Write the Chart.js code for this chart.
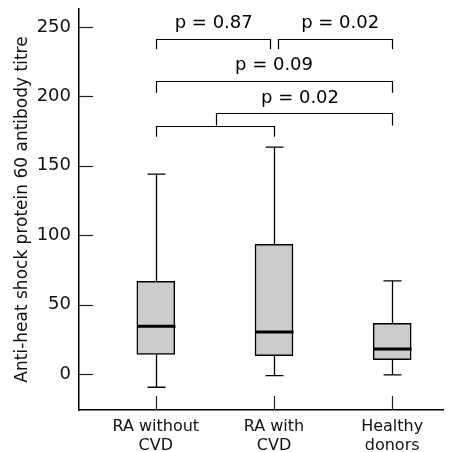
<!DOCTYPE html>
<html>
<head>
<meta charset="utf-8">
<script src="https://cdn.jsdelivr.net/npm/chart.js@4.4.0/dist/chart.umd.min.js"></script>
<style>
  html, body { margin: 0; padding: 0; background: #fff; }
  #wrap { width: 458px; height: 452px; }
</style>
</head>
<body>
<div id="wrap"><canvas id="myChart"></canvas></div>
<script>
// groups and box plot summary values
const groups = [["RA without", "CVD"], ["RA with", "CVD"], ["Healthy", "donors"]];
const whiskerLow = [-9.6, -1.2, -0.7];
const q1 = [14, 13.2, 10.3];
const median = [34.4, 30.3, 18];
const q3 = [66.8, 93.4, 36.5];
const whiskerHigh = [144, 163.5, 67];
const yTicks = [0, 50, 100, 150, 200, 250];

// significance brackets (x in group index, y in titre units)
const bracketFrom = [0, 1.03, 0, 0, 0.51];
const bracketTo = [0.97, 2, 2, 1, 2];
const bracketY = [241.6, 241.6, 210.9, 178.9, 187.8];
const bracketDrop = [234, 234, 202.7, 171, 179];
const pText = ["p = 0.87", "p = 0.02", "p = 0.09", "p = 0.02"];
const pX = [0.49, 1.56, 1.0, 1.22];
const pY = [252.5, 252.5, 222.5, 198.8];

const FONT = "DejaVu Sans";

const boxExtras = {
    id: "boxExtras",
    afterDatasetsDraw(chart) {
        const ctx = chart.ctx;
        const xs = chart.scales.x, ys = chart.scales.y;
        const area = chart.chartArea;
        ctx.save();
        ctx.lineCap = "butt";

        // inward tick marks
        ctx.lineWidth = 1.2;
        ctx.strokeStyle = "#222";
        yTicks.forEach(v => {
            const y = Math.round(ys.getPixelForValue(v)) + 0.5;
            ctx.beginPath();
            ctx.moveTo(area.left, y);
            ctx.lineTo(area.left + 14, y);
            ctx.stroke();
        });
        groups.forEach((g, i) => {
            const x = Math.round(xs.getPixelForValue(i)) + 0.5;
            ctx.beginPath();
            ctx.moveTo(x, area.bottom);
            ctx.lineTo(x, area.bottom - 14);
            ctx.stroke();
        });

        // whiskers and medians
        ctx.strokeStyle = "#000";
        groups.forEach((g, i) => {
            const x = Math.round(xs.getPixelForValue(i)) + 0.5;
            const yl = ys.getPixelForValue(whiskerLow[i]);
            const yq1 = ys.getPixelForValue(q1[i]);
            const yq3 = ys.getPixelForValue(q3[i]);
            const yh = ys.getPixelForValue(whiskerHigh[i]);
            ctx.lineWidth = 1.3;
            ctx.beginPath();
            ctx.moveTo(x, yq3); ctx.lineTo(x, yh);
            ctx.moveTo(x - 9, yh); ctx.lineTo(x + 9, yh);
            ctx.moveTo(x, yq1); ctx.lineTo(x, yl);
            ctx.moveTo(x - 9, yl); ctx.lineTo(x + 9, yl);
            ctx.stroke();
            const ym = ys.getPixelForValue(median[i]);
            ctx.lineWidth = 3;
            ctx.beginPath();
            ctx.moveTo(x - 19, ym); ctx.lineTo(x + 19, ym);
            ctx.stroke();
        });

        // brackets
        ctx.lineWidth = 1.2;
        bracketY.forEach((by, k) => {
            const x1 = Math.round(xs.getPixelForValue(bracketFrom[k])) + 0.5;
            const x2 = Math.round(xs.getPixelForValue(bracketTo[k])) + 0.5;
            const y = Math.round(ys.getPixelForValue(by)) + 0.5;
            const yd = ys.getPixelForValue(bracketDrop[k]);
            ctx.beginPath();
            ctx.moveTo(x1, yd); ctx.lineTo(x1, y); ctx.lineTo(x2, y); ctx.lineTo(x2, yd);
            ctx.stroke();
        });

        // p values
        ctx.fillStyle = "#000";
        ctx.font = "18px '" + FONT + "'";
        ctx.textAlign = "center";
        ctx.textBaseline = "middle";
        pText.forEach((t, k) => {
            ctx.fillText(t, xs.getPixelForValue(pX[k]), ys.getPixelForValue(pY[k]));
        });
        ctx.restore();
    }
};

new Chart("myChart", {
    type: "bar",
    data: {
        datasets: [{
            data: groups.map((g, i) => ({ x: i, y: [q1[i], q3[i]] })),
            backgroundColor: "#cccccc",
            borderColor: "#000",
            borderWidth: 1.5,
            borderSkipped: false,
            barThickness: 38
        }]
    },
    options: {
        responsive: true,
        maintainAspectRatio: false,
        animation: false,
        layout: { padding: { top: 9, right: 15, left: 0, bottom: 0 } },
        plugins: { legend: { display: false }, tooltip: { enabled: false } },
        scales: {
            x: {
                type: "linear",
                offset: false,
                min: -0.65,
                max: 2.43,
                afterBuildTicks: s => { s.ticks = groups.map((g, i) => ({ value: i })); },
                afterFit: s => { s.height = 42; s.paddingLeft = 0; s.paddingRight = 0; },
                grid: { display: false, offset: false, tickLength: 0 },
                border: { display: true, color: "#000", width: 1.5 },
                ticks: {
                    callback: v => groups[v],
                    color: "#111",
                    padding: 7,
                    maxRotation: 0,
                    font: { family: FONT, size: 16, lineHeight: 1.2 }
                }
            },
            y: {
                min: -26,
                max: 263,
                afterBuildTicks: s => { s.ticks = yTicks.map(v => ({ value: v })); },
                afterFit: s => { s.width = 79; s.paddingTop = 0; s.paddingBottom = 0; },
                grid: { display: false, tickLength: 0 },
                border: { display: true, color: "#000", width: 1.5 },
                ticks: {
                    color: "#111",
                    padding: 8,
                    font: { family: FONT, size: 18 }
                },
                title: {
                    display: true,
                    text: "Anti-heat shock protein 60 antibody titre",
                    color: "#111",
                    padding: { top: 12, bottom: 4 },
                    font: { family: FONT, size: 17 }
                }
            }
        }
    },
    plugins: [boxExtras]
});
</script>
</body>
</html>
